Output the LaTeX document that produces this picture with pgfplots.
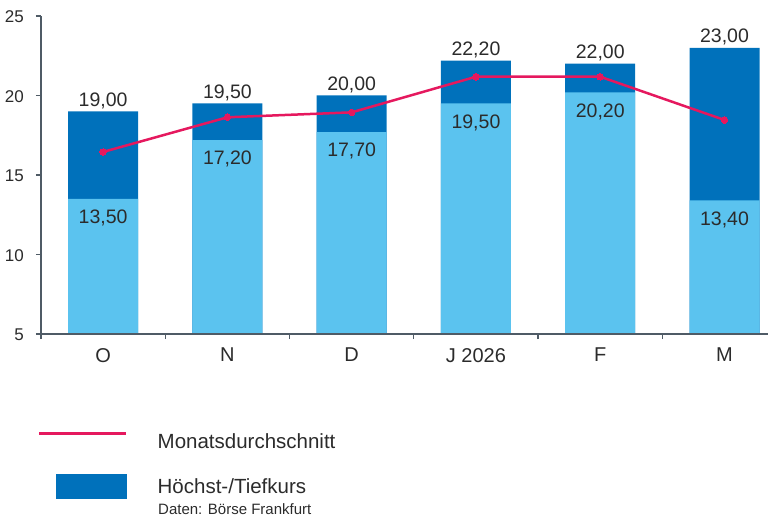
\documentclass[border=0pt]{standalone}
\usepackage{fontspec}
\setmainfont{Liberation Sans}
\usepackage{pgfplots}
\usepackage{pgfplotstable}
\pgfplotsset{compat=1.18}
\definecolor{lightb}{HTML}{5BC3EF}
\definecolor{darkb}{HTML}{0071BB}
\definecolor{mag}{HTML}{E5185E}
\definecolor{axc}{HTML}{4F5B66}
\definecolor{txt}{HTML}{2B2B2B}

\pgfplotstableread{
x high low avg hl ll
0 19.0 13.5 16.45 19,00 13,50
1 19.5 17.2 18.63 19,50 17,20
2 20.0 17.7 18.94 20,00 17,70
3 22.2 19.5 21.18 22,20 19,50
4 22.0 20.2 21.18 22,00 20,20
5 23.0 13.4 18.46 23,00 13,40
}\data

\begin{document}
\begin{tikzpicture}
\begin{axis}[
  scale only axis, width=727bp, height=318bp,
  xmin=-0.5, xmax=5.35, ymin=5, ymax=25,
  axis x line=bottom, axis y line=left,
  axis line style={-, draw=axc, line width=1.3bp},
  axis on top,
  ytick={5,10,15,20,25},
  xtick={-0.5,0.5,...,4.5},
  xticklabels={,,,,,},
  extra x ticks={0,1,2,3,4,5},
  extra x tick labels={O,N,D,J 2026,F,M},
  extra x tick style={major tick length=0pt},
  tick style={draw=axc, line width=1.3bp},
  tick align=outside,
  major tick length=5bp,
  /pgf/number format/assume math mode=true,
  yticklabel style={anchor=east, inner sep=0pt, xshift=-12bp, yshift=-1bp, font=\fontsize{17bp}{20bp}\selectfont, text=txt},
  xticklabel style={anchor=north, inner sep=0pt, yshift=-14bp, font=\fontsize{20bp}{24bp}\selectfont, text=txt},
  legend style={at={(rel axis cs:0,0)}, anchor=north west, xshift=-3bp, yshift=-98bp,
    draw=none, fill=none, inner sep=0pt, column sep=30bp, row sep=24.5bp,
    font=\fontsize{20.5bp}{24bp}\selectfont, text=txt, nodes={inner sep=0pt}},
  legend cell align=left,
]
\addplot[ybar, bar width=70bp, bar shift=0pt, fill=darkb, draw=none, forget plot] table[x=x, y=high] {\data};
\addplot[ybar, bar width=70bp, bar shift=0pt, fill=lightb, draw=none, forget plot] table[x=x, y=low] {\data};
\addplot[mag, line width=2.5bp, mark=*, mark size=3.3bp, mark options={fill=mag, draw=mag, line width=0pt}, forget plot] table[x=x, y=avg] {\data};
\addplot[draw=none, forget plot, nodes near coords, point meta=explicit symbolic,
  nodes near coords style={anchor=base, yshift=5bp, inner sep=0pt, font=\fontsize{19.5bp}{23bp}\selectfont, text=txt}]
  table[x=x, y=high, meta=hl] {\data};
\addplot[draw=none, forget plot, nodes near coords, point meta=explicit symbolic,
  nodes near coords style={anchor=north, yshift=-11bp, inner sep=0pt, font=\fontsize{19.5bp}{23bp}\selectfont, text=txt}]
  table[x=x, y=low, meta=ll] {\data};
\addlegendimage{legend image code/.code={\draw[mag, line width=2.5bp] (0bp,8bp) -- (87bp,8bp);}}
\addlegendentry{Monatsdurchschnitt}
\addlegendimage{legend image code/.code={\fill[darkb] (17bp,-12bp) rectangle (87bp,12bp);}}
\addlegendentry{Höchst-/Tiefkurs}
\end{axis}
\node[anchor=base west, inner sep=0pt, font=\fontsize{15bp}{18bp}\selectfont, text=txt] at ([xshift=117bp, yshift=-180.5bp]current axis.south west) {Daten: Börse Frankfurt};
\pgfresetboundingbox
\path[use as bounding box] ([shift={(-41bp,-184bp)}]current axis.south west) rectangle ([shift={(0bp,16bp)}]current axis.north east);
\end{tikzpicture}
\end{document}
